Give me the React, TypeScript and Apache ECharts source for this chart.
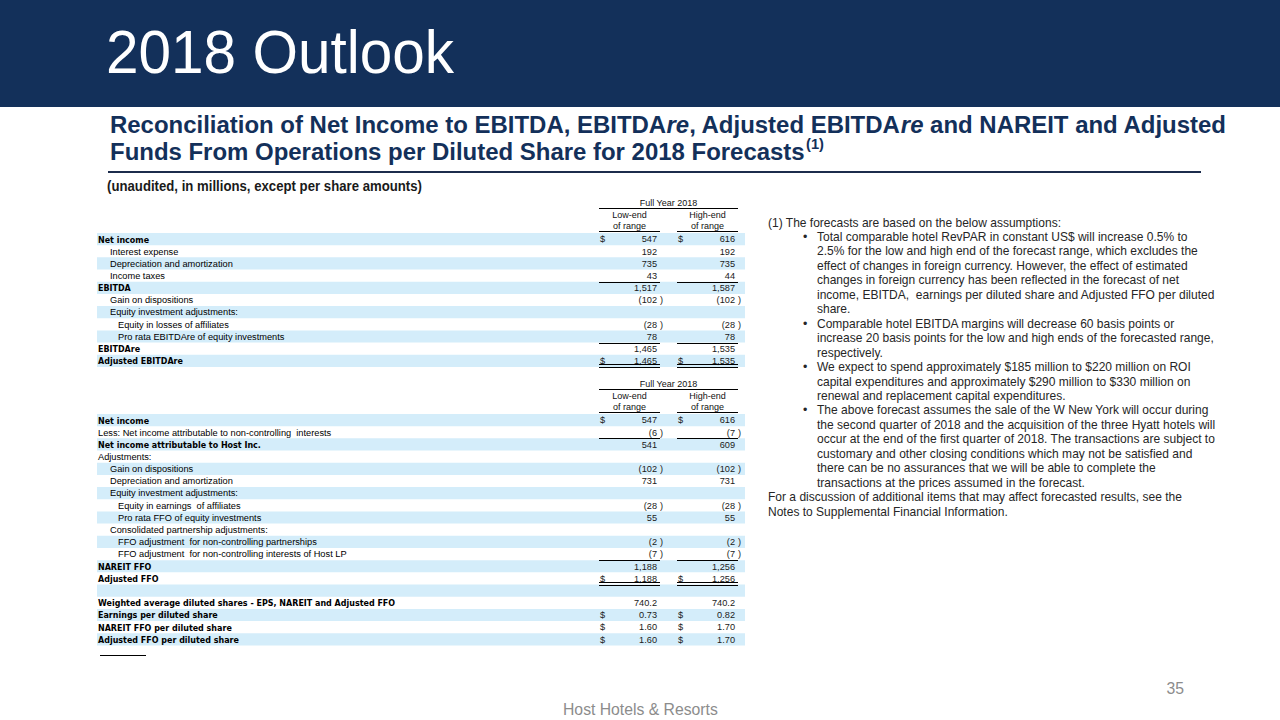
import React, { useEffect, useRef } from "react";
import * as echarts from "echarts";

// ---------- texts ----------
const pageTitle = "2018 Outlook";
const subtitle1 = [
  { t: "Reconciliation of Net Income to EBITDA, EBITDA", it: false },
  { t: "re", it: true },
  { t: ", Adjusted EBITDA", it: false },
  { t: "re", it: true },
  { t: " and NAREIT and Adjusted", it: false },
];
const subtitle2 = "Funds From Operations per Diluted Share for 2018 Forecasts";
const subtitleNote = "(1)";
const unitsNote = "(unaudited, in millions, except per share amounts)";
const colGroup = "Full Year 2018";
const colLow = ["Low-end", "of range"];
const colHigh = ["High-end", "of range"];

// ---------- table 1 ----------
const labels1 = [
  "Net income",
  "Interest expense",
  "Depreciation and amortization",
  "Income taxes",
  "EBITDA",
  "Gain on dispositions",
  "Equity investment adjustments:",
  "Equity in losses of affiliates",
  "Pro rata EBITDAre of equity investments",
  "EBITDAre",
  "Adjusted EBITDAre",
];
const indent1 = [0, 1, 1, 1, 0, 1, 1, 2, 2, 0, 0];
const bold1 = [1, 0, 0, 0, 1, 0, 0, 0, 0, 1, 1];
const low1: (number | null)[] = [547, 192, 735, 43, 1517, -102, null, -28, 78, 1465, 1465];
const high1: (number | null)[] = [616, 192, 735, 44, 1587, -102, null, -28, 78, 1535, 1535];
const dollar1 = [1, 0, 0, 0, 0, 0, 0, 0, 0, 0, 1];
const decimals1 = [0, 0, 0, 0, 0, 0, 0, 0, 0, 0, 0];
const ruleAbove1 = [4, 9];
const doubleBelow1 = [10];

// ---------- table 2 ----------
const labels2 = [
  "Net income",
  "Less: Net income attributable to non-controlling  interests",
  "Net income attributable to Host Inc.",
  "Adjustments:",
  "Gain on dispositions",
  "Depreciation and amortization",
  "Equity investment adjustments:",
  "Equity in earnings  of affiliates",
  "Pro rata FFO of equity investments",
  "Consolidated partnership adjustments:",
  "FFO adjustment  for non-controlling partnerships",
  "FFO adjustment  for non-controlling interests of Host LP",
  "NAREIT FFO",
  "Adjusted FFO",
  "",
  "Weighted average diluted shares - EPS, NAREIT and Adjusted FFO",
  "Earnings per diluted share",
  "NAREIT FFO per diluted share",
  "Adjusted FFO per diluted share",
];
const indent2 = [0, 0, 0, 0, 1, 1, 1, 2, 2, 1, 2, 2, 0, 0, 0, 0, 0, 0, 0];
const bold2 = [1, 0, 1, 0, 0, 0, 0, 0, 0, 0, 0, 0, 1, 1, 0, 1, 1, 1, 1];
const low2: (number | null)[] = [547, -6, 541, null, -102, 731, null, -28, 55, null, -2, -7, 1188, 1188, null, 740.2, 0.73, 1.6, 1.6];
const high2: (number | null)[] = [616, -7, 609, null, -102, 731, null, -28, 55, null, -2, -7, 1256, 1256, null, 740.2, 0.82, 1.7, 1.7];
const dollar2 = [1, 0, 0, 0, 0, 0, 0, 0, 0, 0, 0, 0, 0, 1, 0, 0, 1, 1, 1];
const decimals2 = [0, 0, 0, 0, 0, 0, 0, 0, 0, 0, 0, 0, 0, 0, 0, 1, 2, 2, 2];
const ruleAbove2 = [2, 12];
const doubleBelow2 = [13];

// ---------- notes ----------
const noteKinds = ["p", "b", "c", "c", "c", "c", "c", "b", "c", "c", "b", "c", "c", "b", "c", "c", "c", "c", "c", "p", "p"];
const noteLines = [
  "(1) The forecasts are based on the below assumptions:",
  "Total comparable hotel RevPAR in constant US$ will increase 0.5% to",
  "2.5% for the low and high end of the forecast range, which excludes the",
  "effect of changes in foreign currency. However, the effect of estimated",
  "changes in foreign currency has been reflected in the forecast of net",
  "income, EBITDA,  earnings per diluted share and Adjusted FFO per diluted",
  "share.",
  "Comparable hotel EBITDA margins will decrease 60 basis points or",
  "increase 20 basis points for the low and high ends of the forecasted range,",
  "respectively.",
  "We expect to spend approximately $185 million to $220 million on ROI",
  "capital expenditures and approximately $290 million to $330 million on",
  "renewal and replacement capital expenditures.",
  "The above forecast assumes the sale of the W New York will occur during",
  "the second quarter of 2018 and the acquisition of the three Hyatt hotels will",
  "occur at the end of the first quarter of 2018. The transactions are subject to",
  "customary and other closing conditions which may not be satisfied and",
  "there can be no assurances that we will be able to complete the",
  "transactions at the prices assumed in the forecast.",
  "For a discussion of additional items that may affect forecasted results, see the",
  "Notes to Supplemental Financial Information.",
];
const footerText = "Host Hotels & Resorts";
const pageNumber = "35";

// ---------- style ----------
const F = "'Liberation Sans', Arial, Helvetica, sans-serif";
const FB = "'DejaVu Sans', Tahoma, Verdana, sans-serif";
const NAVY = "#13305a";
const ROW_BLUE = "#d4edfa";

let ctx: CanvasRenderingContext2D | null = null;
function tw(text: string, size: number, family: string, weight = "normal", style = "normal") {
  if (!ctx) ctx = document.createElement("canvas").getContext("2d");
  ctx!.font = `${style} ${weight} ${size}px ${family}`;
  return ctx!.measureText(text).width;
}

function txt(x: number, y: number, text: string, o: any = {}) {
  const align = o.align || "left";
  return {
    type: "text",
    x,
    y,
    scaleX: o.scaleX ?? 1,
    silent: true,
    style: {
      text,
      fontSize: o.size || 9,
      fontFamily: o.family || F,
      fontWeight: o.weight || "normal",
      fontStyle: o.italic ? "italic" : "normal",
      fill: o.color || "#000",
      align,
      textAlign: align,
      verticalAlign: "middle",
      textVerticalAlign: "middle",
    },
  };
}
function hline(x1: number, x2: number, y: number, color = "#000", w = 1) {
  return { type: "line", silent: true, shape: { x1, y1: y, x2, y2: y }, style: { stroke: color, lineWidth: w } };
}
function rect(x: number, y: number, width: number, height: number, fill: string) {
  return { type: "rect", silent: true, shape: { x, y, width, height }, style: { fill } };
}

function fmt(v: number, d: number) {
  return Math.abs(v).toLocaleString("en-US", { minimumFractionDigits: d, maximumFractionDigits: d });
}

const PITCH = 12.18;
const INDENT_X = [98, 110, 118];
const LOW_RIGHT = 657;
const HIGH_RIGHT = 735;
const LOW_DOLLAR = 600;
const HIGH_DOLLAR = 678;
const LOW_L = 599, LOW_R = 660, HIGH_L = 677, HIGH_R = 738;

function buildTable(
  top: number,
  labels: string[],
  indent: number[],
  bold: number[],
  low: (number | null)[],
  high: (number | null)[],
  dollar: number[],
  decimals: number[],
  ruleAbove: number[],
  doubleBelow: number[],
  regScale: number,
  boldScale: number
) {
  const els: any[] = [];
  // header
  els.push(txt((LOW_L + HIGH_R) / 2, top - 30.5, colGroup, { align: "center", color: "#111" }));
  els.push(hline(LOW_L, HIGH_R, Math.round(top - 25) + 0.5));
  els.push(txt((LOW_L + LOW_R) / 2, top - 18, colLow[0], { align: "center", color: "#111" }));
  els.push(txt((LOW_L + LOW_R) / 2, top - 7, colLow[1], { align: "center", color: "#111" }));
  els.push(txt((HIGH_L + HIGH_R) / 2, top - 18, colHigh[0], { align: "center", color: "#111" }));
  els.push(txt((HIGH_L + HIGH_R) / 2, top - 7, colHigh[1], { align: "center", color: "#111" }));
  els.push(hline(LOW_L, LOW_R, Math.round(top - 2) + 0.5));
  els.push(hline(HIGH_L, HIGH_R, Math.round(top - 2) + 0.5));

  labels.forEach((lab, i) => {
    const y0 = top + i * PITCH;
    const yc = y0 + PITCH / 2 + 0.3;
    if (i % 2 === 0) els.push(rect(97, y0, 648, PITCH, ROW_BLUE));
    if (lab) {
      const b = bold[i] === 1;
      els.push(
        txt(INDENT_X[indent[i]], yc, lab, {
          family: b ? FB : F,
          weight: b ? "bold" : "normal",
          size: b ? 9.2 : 9.2,
          scaleX: b ? boldScale : regScale,
        })
      );
    }
    const vals: [number | null, number, number, number][] = [
      [low[i], LOW_RIGHT, LOW_DOLLAR, LOW_R],
      [high[i], HIGH_RIGHT, HIGH_DOLLAR, HIGH_R],
    ];
    vals.forEach(([v, right, dx, px]) => {
      if (v === null || v === undefined) return;
      const s = fmt(v, decimals[i]);
      els.push(txt(right, yc, v < 0 ? "(" + s : s, { align: "right", color: "#1a1a1a", size: 9.2 }));
      if (v < 0) els.push(txt(px, yc, ")", { align: "left", color: "#1a1a1a", size: 9.2 }));
      if (dollar[i]) els.push(txt(dx, yc, "$", { align: "left", color: "#1a1a1a", size: 9.2 }));
    });
  });
  ruleAbove.forEach((r) => {
    const y = Math.round(top + r * PITCH) + 0.5;
    els.push(hline(LOW_L, LOW_R, y));
    els.push(hline(HIGH_L, HIGH_R, y));
  });
  doubleBelow.forEach((r) => {
    const yb = top + (r + 1) * PITCH;
    [Math.round(yb - 3) + 0.5, Math.round(yb) + 0.5].forEach((y) => {
      els.push(hline(LOW_L, LOW_R, y));
      els.push(hline(HIGH_L, HIGH_R, y));
    });
  });
  return els;
}

function buildGraphics() {
  const els: any[] = [];
  // header band
  els.push(rect(0, 0, 1280, 107, NAVY));
  const titleScale = 348 / tw(pageTitle, 62, F);
  els.push(txt(106, 51, pageTitle, { size: 62, color: "#ffffff", scaleX: titleScale }));

  // subtitle
  const SUB = 24.5;
  const segW = subtitle1.map((s) => tw(s.t, SUB, F, "bold", s.it ? "italic" : "normal"));
  const subScale = 1117 / segW.reduce((a, b) => a + b, 0);
  let x = 110;
  subtitle1.forEach((s, i) => {
    els.push(txt(x, 124, s.t, { size: SUB, weight: "bold", italic: s.it, color: NAVY, scaleX: subScale }));
    x += segW[i] * subScale;
  });
  els.push(txt(110, 151, subtitle2, { size: SUB, weight: "bold", color: NAVY, scaleX: subScale }));
  const x2 = 110 + tw(subtitle2, SUB, F, "bold") * subScale + 1;
  els.push(txt(x2, 144, subtitleNote, { size: 15, weight: "bold", color: NAVY, scaleX: subScale }));
  els.push(hline(108, 1201, 172, "#1c2c4c", 2));

  const unitScale = 315 / tw(unitsNote, 14, F, "bold");
  els.push(txt(107, 186, unitsNote, { size: 14, weight: "bold", color: "#1a1a1a", scaleX: unitScale }));

  // tables
  const regScale = 233 / tw(labels2[1], 9.2, F);
  const boldScale = 297 / tw(labels2[15], 9.2, FB, "bold");
  els.push(...buildTable(233, labels1, indent1, bold1, low1, high1, dollar1, decimals1, ruleAbove1, doubleBelow1, regScale, boldScale));
  els.push(...buildTable(414, labels2, indent2, bold2, low2, high2, dollar2, decimals2, ruleAbove2, doubleBelow2, regScale, boldScale));
  els.push(hline(100, 146, 655.5, "#000", 1));

  // notes
  const NS = 12.4;
  const noteScale = 398 / tw(noteLines[15], NS, F);
  noteLines.forEach((line, i) => {
    const y = 222.5 + i * 14.45;
    const k = noteKinds[i];
    if (k === "b") els.push(txt(803, y, "•", { size: NS, color: "#262626" }));
    els.push(txt(k === "p" ? 768 : 817, y, line, { size: NS, color: "#262626", scaleX: noteScale }));
  });

  // footer
  const fScale = 155 / tw(footerText, 17, F);
  els.push(txt(563, 709, footerText, { size: 17, color: "#8c8c8c", scaleX: fScale }));
  els.push(txt(1184, 688, pageNumber, { size: 17, color: "#8c8c8c", align: "right", scaleX: fScale }));
  return els;
}

export default function App() {
  const ref = useRef<HTMLDivElement>(null);
  useEffect(() => {
    if (!ref.current) return;
    const chart = echarts.init(ref.current, undefined, { renderer: "svg" });
    chart.setOption({
      animation: false,
      backgroundColor: "#ffffff",
      graphic: { elements: buildGraphics() },
      series: [],
    });
    return () => chart.dispose();
  }, []);
  return (
    <div
      ref={ref}
      style={{ position: "fixed", left: 0, top: 0, width: 1280, height: 720, background: "#fff" }}
    />
  );
}
